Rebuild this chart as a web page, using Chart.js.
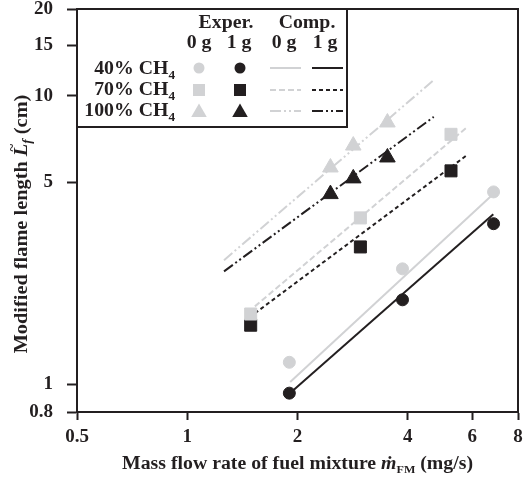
<!DOCTYPE html>
<html><head><meta charset="utf-8">
<script src="https://cdn.jsdelivr.net/npm/chart.js@4/dist/chart.umd.min.js"></script>
<style>html,body{margin:0;padding:0;background:#fff;overflow:hidden}canvas{display:block}</style>
</head><body>
<canvas id="c" width="523" height="481"></canvas>
<script>
// ---- data ----
const xTickValues = [0.5, 1, 2, 4, 6, 8];
const xTickLabels = ['0.5', '1', '2', '4', '6', '8'];
const yTickValues = [0.8, 1, 5, 10, 15, 20];
const yTickLabels = ['0.8', '1', '5', '10', '15', '20'];

// Experimental data: mass flow rate (mg/s) and modified flame length (cm)
const flow40 = [1.9, 3.87, 6.86];
const exp40_0g = [1.19, 2.51, 4.64];
const exp40_1g = [0.93, 1.96, 3.6];
const flow70 = [1.49, 2.97, 5.25];
const exp70_0g = [1.75, 3.77, 7.35];
const exp70_1g = [1.6, 2.99, 5.49];
const flow100 = [2.46, 2.84, 3.52];
const exp100_0g = [5.64, 6.72, 8.08];
const exp100_1g = [4.56, 5.17, 6.11];

// Computational lines (end points)
const compFlow40 = [1.91, 6.85];
const comp40_0g = [1.016, 4.56];
const comp40_1g = [0.932, 3.88];
const compFlow70 = [1.53, 5.8];
const comp70_0g = [1.86, 7.77];
const comp70_1g = [1.76, 6.22];
const compFlow100 = [1.26, 4.71];
const comp100_0g = [2.69, 11.34];
const comp100_1g = [2.46, 8.45];

// ---- styling ----
const GRAY = '#d1d2d4', BLACK = '#231f20';
const FAM = '"Liberation Serif", "Times New Roman", serif';
const SX = 1.1; // horizontal stretch of custom text
const DASH70_0 = [6, 3], DASH70_1 = [4, 3];
const DASH100 = [11, 3, 2, 3, 2, 3];

function pts(xs, ys) { return xs.map((x, i) => ({ x: x, y: ys[i] })); }
function marker(data, style, r, col) {
  return { data: data, pointStyle: style, pointRadius: r, pointHoverRadius: r,
    backgroundColor: col, borderColor: col, pointBorderWidth: 1, showLine: false, order: 0 };
}
function line(data, col, dash) {
  return { data: data, showLine: true, pointRadius: 0, pointHoverRadius: 0, borderColor: col,
    backgroundColor: col, borderWidth: 2, borderDash: dash, fill: false, order: 1, tension: 0 };
}

const datasets = [
  marker(pts(flow40, exp40_0g), 'circle', 6, GRAY),
  marker(pts(flow40, exp40_1g), 'circle', 6, BLACK),
  marker(pts(flow70, exp70_0g), 'rect', 8.5, GRAY),
  marker(pts(flow70, exp70_1g), 'rect', 8.5, BLACK),
  marker(pts(flow100, exp100_0g), 'triangle', 9, GRAY),
  marker(pts(flow100, exp100_1g), 'triangle', 9, BLACK),
  line(pts(compFlow40, comp40_0g), GRAY, []),
  line(pts(compFlow40, comp40_1g), BLACK, []),
  line(pts(compFlow70, comp70_0g), GRAY, DASH70_0),
  line(pts(compFlow70, comp70_1g), BLACK, DASH70_1),
  line(pts(compFlow100, comp100_0g), GRAY, DASH100),
  line(pts(compFlow100, comp100_1g), BLACK, DASH100)
];

// draw a sequence of text segments centred on (x0, y0), stretched horizontally by sx
function rich(ctx, segs, x0, y0, sx) {
  let total = 0;
  segs.forEach(s => { ctx.font = s.f; s.w = ctx.measureText(s.t).width; total += s.w; });
  ctx.save();
  ctx.translate(x0, y0);
  ctx.scale(sx, 1);
  ctx.textAlign = 'left';
  let x = -total / 2;
  segs.forEach(s => {
    ctx.font = s.f;
    ctx.fillText(s.t, x, s.dy || 0);
    if (s.tilde) {
      ctx.save();
      ctx.font = 'bold 13px ' + FAM;
      ctx.textAlign = 'center';
      ctx.fillText('~', x + s.w / 2 + 2, -11);
      ctx.restore();
    }
    x += s.w;
  });
  ctx.restore();
}
function txt(ctx, t, x, y, align, font) {
  ctx.save();
  ctx.translate(x, y); ctx.scale(SX, 1);
  ctx.font = font; ctx.textAlign = align;
  ctx.fillText(t, 0, 0);
  ctx.restore();
}

function drawShape(ctx, style, x, y, r, col) {
  ctx.fillStyle = col;
  ctx.beginPath();
  if (style === 'circle') ctx.arc(x, y, r, 0, Math.PI * 2);
  else if (style === 'rect') { const s = r * Math.SQRT1_2; ctx.rect(x - s, y - s, 2 * s, 2 * s); }
  else {
    const h = r * Math.sin(Math.PI / 3);
    ctx.moveTo(x, y - r); ctx.lineTo(x + h, y + r / 2); ctx.lineTo(x - h, y + r / 2); ctx.closePath();
  }
  ctx.fill();
}

const decor = {
  id: 'decor',
  afterDraw(chart) {
    const ctx = chart.ctx, a = chart.chartArea;
    ctx.save();
    ctx.strokeStyle = BLACK; ctx.lineWidth = 2;
    // frame top & right
    ctx.beginPath();
    ctx.moveTo(a.left - 1, a.top); ctx.lineTo(a.right, a.top); ctx.lineTo(a.right, a.bottom + 1);
    ctx.stroke();
    // legend box
    ctx.fillStyle = '#fff';
    ctx.fillRect(a.left, a.top, 347 - a.left, 127 - a.top);
    ctx.strokeRect(a.left, a.top, 347 - a.left, 127 - a.top);

    ctx.fillStyle = BLACK;
    ctx.textBaseline = 'alphabetic';
    const B = 'bold 18px ' + FAM;
    txt(ctx, 'Exper.', 226, 28, 'center', B);
    txt(ctx, 'Comp.', 307, 28, 'center', B);
    txt(ctx, '0 g', 199, 48, 'center', B); txt(ctx, '1 g', 239, 48, 'center', B);
    txt(ctx, '0 g', 284, 48, 'center', B); txt(ctx, '1 g', 325, 48, 'center', B);
    // row labels with subscript 4
    const SUB = 'bold 12px ' + FAM;
    const rows = [['40% CH', 74], ['70% CH', 95], ['100% CH', 116]];
    rows.forEach(r => {
      ctx.font = SUB; const ws = ctx.measureText('4').width * SX;
      txt(ctx, r[0], 175 - ws, r[1], 'right', B);
      txt(ctx, '4', 175 - ws, r[1] + 5, 'left', SUB);
    });
    // legend markers
    drawShape(ctx, 'circle', 199, 68, 5.5, GRAY);
    drawShape(ctx, 'circle', 240, 68, 5.5, BLACK);
    drawShape(ctx, 'rect', 199, 90, 8.5, GRAY);
    drawShape(ctx, 'rect', 240, 90, 8.5, BLACK);
    drawShape(ctx, 'triangle', 199, 112.5, 9, GRAY);
    drawShape(ctx, 'triangle', 240, 112.5, 9, BLACK);
    // legend lines
    const lrows = [[68, [], []], [90, DASH70_0, DASH70_1], [111, DASH100, DASH100]];
    lrows.forEach(r => {
      ctx.lineWidth = 2;
      ctx.setLineDash(r[1]); ctx.strokeStyle = GRAY;
      ctx.beginPath(); ctx.moveTo(270, r[0]); ctx.lineTo(301, r[0]); ctx.stroke();
      ctx.setLineDash(r[2]); ctx.strokeStyle = BLACK;
      ctx.beginPath(); ctx.moveTo(312, r[0]); ctx.lineTo(343, r[0]); ctx.stroke();
    });
    ctx.setLineDash([]);

    // axis titles
    ctx.fillStyle = BLACK;
    const BI = 'italic bold 18px ' + FAM;
    rich(ctx, [
      { t: 'Mass flow rate of fuel mixture ', f: B },
      { t: '\u1E41', f: BI },
      { t: 'FM', f: 'bold 11px ' + FAM, dy: 4 },
      { t: ' (mg/s)', f: B }
    ], (a.left + a.right) / 2, 469, SX);

    ctx.save();
    ctx.translate(27, 224);
    ctx.rotate(-Math.PI / 2);
    rich(ctx, [
      { t: 'Modified flame length ', f: B },
      { t: 'L', f: BI, tilde: true },
      { t: 'f', f: 'italic bold 12px ' + FAM, dy: 4 },
      { t: ' (cm)', f: B }
    ], 0, 0, 1.13);
    ctx.restore();
    ctx.restore();
  }
};

function noPad(s) { s.paddingTop = 0; s.paddingBottom = 0; s.paddingLeft = 0; s.paddingRight = 0; }
const tickFont = { family: FAM, size: 19, weight: 'bold' };
new Chart(document.getElementById('c'), {
  type: 'scatter',
  data: { datasets: datasets },
  options: {
    responsive: false, animation: false, devicePixelRatio: 1,
    layout: { autoPadding: false, padding: { left: 0, right: 5, top: 9, bottom: 0 } },
    plugins: { legend: { display: false }, tooltip: { enabled: false } },
    scales: {
      x: {
        type: 'logarithmic', min: 0.5, max: 8,
        afterBuildTicks: s => { s.ticks = xTickValues.map(v => ({ value: v })); },
        afterFit: s => { s.height = 69; noPad(s); },
        ticks: { autoSkip: false, maxRotation: 0, minRotation: 0, font: tickFont, color: BLACK, padding: 6,
          callback: (v, i) => xTickLabels[i] },
        grid: { display: true, drawOnChartArea: false, drawTicks: true, tickLength: 8, tickWidth: 2, tickColor: BLACK, color: BLACK },
        border: { display: true, color: BLACK, width: 2 }
      },
      y: {
        type: 'logarithmic', min: 0.8, max: 20,
        afterBuildTicks: s => { s.ticks = yTickValues.map(v => ({ value: v })); },
        afterFit: s => { s.width = 77; noPad(s); },
        ticks: { autoSkip: false, font: tickFont, color: BLACK, padding: 14,
          callback: (v, i) => yTickLabels[i] },
        grid: { display: true, drawOnChartArea: false, drawTicks: true, tickLength: 10, tickWidth: 2, tickColor: BLACK, color: BLACK },
        border: { display: true, color: BLACK, width: 2 }
      }
    }
  },
  plugins: [decor]
});
</script>
</body></html>
